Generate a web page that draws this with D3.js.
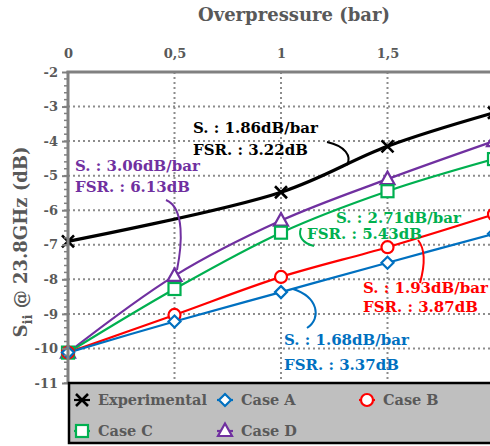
<!DOCTYPE html>
<html>
<head>
<meta charset="utf-8">
<script src="https://cdn.jsdelivr.net/npm/d3@7"></script>
<style>
  body { margin: 0; background: #fff; }
  svg { display: block; font-family: "DejaVu Serif", serif; font-weight: bold; }
</style>
</head>
<body>
<svg width="490" height="446"></svg>
<script>
// data
var pressure = [0, 0.5, 1, 1.5, 2];
var expPressure = [0, 1, 1.5, 2];
var experimental = [-6.9, -5.48, -4.15, -3.18];
var caseA = [-10.12, -9.22, -8.37, -7.52, -6.68];
var caseB = [-10.12, -9.03, -7.93, -7.07, -6.12];
var caseC = [-10.12, -8.28, -6.65, -5.45, -4.52];
var caseD = [-10.12, -7.9, -6.3, -5.1, -4.0];
var xTicks = [0, 0.5, 1, 1.5];
var xTickLabels = ["0", "0,5", "1", "1,5"];
var yTicks = [-2, -3, -4, -5, -6, -7, -8, -9, -10, -11];

var svg = d3.select("svg");
var gray = "#595959";

var x = d3.scaleLinear().domain([0, 2]).range([68, 494]);
var y = d3.scaleLinear().domain([-2, -11]).range([72, 383]);

var series = [
  { name: "Experimental", xs: expPressure, ys: experimental, color: "#000000", shape: "x", width: 3.2 },
  { name: "Case A", xs: pressure, ys: caseA, color: "#0070c0", shape: "diamond", width: 2.2 },
  { name: "Case B", xs: pressure, ys: caseB, color: "#ff0000", shape: "circle", width: 2.2 },
  { name: "Case C", xs: pressure, ys: caseC, color: "#00b050", shape: "square", width: 2.2 },
  { name: "Case D", xs: pressure, ys: caseD, color: "#7030a0", shape: "triangle", width: 2.2 }
];

// grid
svg.append("g").selectAll("line")
  .data(yTicks.slice(1, -1))
  .enter().append("line")
  .attr("x1", x(0)).attr("x2", 490)
  .attr("y1", function(d) { return y(d); })
  .attr("y2", function(d) { return y(d); })
  .attr("stroke", "#8c8c8c").attr("stroke-width", 2)
  .attr("stroke-dasharray", "2,3");

svg.append("g").selectAll("line")
  .data(xTicks.slice(1))
  .enter().append("line")
  .attr("x1", function(d) { return x(d); })
  .attr("x2", function(d) { return x(d); })
  .attr("y1", y(-2)).attr("y2", y(-11))
  .attr("stroke", "#8c8c8c").attr("stroke-width", 2)
  .attr("stroke-dasharray", "2,3");

// lines
var line = d3.line().curve(d3.curveCatmullRom.alpha(0.5));
series.slice().reverse().forEach(function(s) {
  var pts = s.xs.map(function(v, i) { return [x(v), y(s.ys[i])]; });
  svg.append("path")
    .attr("d", line(pts))
    .attr("fill", "none")
    .attr("stroke", s.color)
    .attr("stroke-width", s.width);
});

function marker(g, shape, color) {
  if (shape === "x") {
    g.append("path").attr("d", "M-6,-6L6,6M-6,6L6,-6")
      .attr("stroke", color).attr("stroke-width", 2.6).attr("fill", "none");
  } else if (shape === "circle") {
    g.append("circle").attr("r", 6)
      .attr("fill", "#fff").attr("stroke", color).attr("stroke-width", 2.2);
  } else if (shape === "square") {
    g.append("rect").attr("x", -6).attr("y", -6).attr("width", 12).attr("height", 12)
      .attr("fill", "#fff").attr("stroke", color).attr("stroke-width", 2.2);
  } else if (shape === "diamond") {
    g.append("path").attr("d", "M0,-6L6,0L0,6L-6,0Z")
      .attr("fill", "#fff").attr("stroke", color).attr("stroke-width", 2.2);
  } else if (shape === "triangle") {
    g.append("path").attr("d", "M0,-7.5L7,5L-7,5Z")
      .attr("fill", "#fff").attr("stroke", color).attr("stroke-width", 2.2);
  }
}

series.slice().reverse().forEach(function(s) {
  s.xs.forEach(function(v, i) {
    var g = svg.append("g").attr("transform", "translate(" + x(v) + "," + y(s.ys[i]) + ")");
    marker(g, s.shape, s.color);
  });
});

// annotations
var notes = [
  { color: "#000000", lines: ["S. : 1.86dB/bar", "FSR. : 3.22dB"], tx: 193, ty: 133, dy: 22,
    leader: "M327,142 C345,146 352,156 347,165" },
  { color: "#7030a0", lines: ["S. : 3.06dB/bar", "FSR. : 6.13dB"], tx: 75, ty: 171, dy: 21,
    leader: "M166,200 C185,208 182,245 177,270" },
  { color: "#00b050", lines: ["S. : 2.71dB/bar"], tx: 336, ty: 223, dy: 0,
    leader: "M301,228 C298,236 302,243 314,246" },
  { color: "#00b050", lines: ["FSR. : 5.43dB"], tx: 307, ty: 239, dy: 0, leader: null },
  { color: "#ff0000", lines: ["S. : 1.93dB/bar", "FSR. : 3.87dB"], tx: 363, ty: 293, dy: 19,
    leader: "M418,240 C426,250 425,265 420,283" },
  { color: "#0070c0", lines: ["S. : 1.68dB/bar", "FSR. : 3.37dB"], tx: 284, ty: 345, dy: 25,
    leader: "M293,289 C318,297 322,318 307,328" }
];

notes.forEach(function(n) {
  if (n.leader) {
    svg.append("path").attr("d", n.leader)
      .attr("fill", "none").attr("stroke", n.color).attr("stroke-width", 2);
  }
  n.lines.forEach(function(t, i) {
    svg.append("text")
      .attr("x", n.tx).attr("y", n.ty + i * n.dy)
      .attr("fill", n.color)
      .attr("font-size", 15)
      .text(t);
  });
});

// axes
var yAxis = d3.axisLeft(y).tickValues(yTicks).tickSize(6)
  .tickFormat(function(d) { return String(d); });
var gy = svg.append("g").attr("transform", "translate(" + x(0) + ",0)").call(yAxis);
gy.select(".domain").remove();
gy.selectAll(".tick line").attr("stroke", "#808080").attr("stroke-width", 2);
gy.selectAll(".tick text").attr("fill", gray).attr("font-size", 13)
  .attr("font-family", "DejaVu Serif").attr("font-weight", "bold").attr("x", -10);

var minor = d3.range(-11, -2, 0.2);
svg.append("g").selectAll("line")
  .data(minor)
  .enter().append("line")
  .attr("x1", x(0) - 4).attr("x2", x(0))
  .attr("y1", function(d) { return y(d); })
  .attr("y2", function(d) { return y(d); })
  .attr("stroke", "#808080").attr("stroke-width", 1.5);

svg.append("line")
  .attr("x1", x(0)).attr("x2", x(0)).attr("y1", y(-2) - 1).attr("y2", y(-11))
  .attr("stroke", "#808080").attr("stroke-width", 3);

var xAxis = d3.axisTop(x).tickValues(xTicks).tickSize(0)
  .tickFormat(function(d, i) { return xTickLabels[i]; });
var gx = svg.append("g").attr("transform", "translate(0," + y(-2) + ")").call(xAxis);
gx.select(".domain").remove();
gx.selectAll(".tick text").attr("fill", gray).attr("font-size", 13)
  .attr("font-family", "DejaVu Serif").attr("font-weight", "bold").attr("y", -14);

svg.append("line")
  .attr("x1", x(0) - 1.5).attr("x2", 490).attr("y1", y(-2)).attr("y2", y(-2))
  .attr("stroke", "#808080").attr("stroke-width", 3);

// titles
svg.append("text")
  .attr("x", 294).attr("y", 21)
  .attr("text-anchor", "middle")
  .attr("fill", gray).attr("font-size", 18)
  .text("Overpressure (bar)");

var yt = svg.append("text")
  .attr("transform", "translate(27,242) rotate(-90)")
  .attr("text-anchor", "middle")
  .attr("fill", gray).attr("font-size", 18);
yt.append("tspan").text("S");
yt.append("tspan").attr("dy", 5).attr("font-size", 13).text("ii");
yt.append("tspan").attr("dy", -5).text(" @ 23.8GHz (dB)");

// legend
svg.append("rect")
  .attr("x", 69).attr("y", 383).attr("width", 430).attr("height", 60)
  .attr("fill", "#bfbfbf").attr("stroke", "#000").attr("stroke-width", 2.5);

var legendPos = [[82, 400], [225, 400], [367, 400], [82, 431], [225, 431]];
series.forEach(function(s, i) {
  var p = legendPos[i];
  svg.append("line")
    .attr("x1", p[0] - 8).attr("x2", p[0] + 8).attr("y1", p[1]).attr("y2", p[1])
    .attr("stroke", s.color).attr("stroke-width", 2.2);
  var g = svg.append("g").attr("transform", "translate(" + p[0] + "," + p[1] + ")");
  marker(g, s.shape, s.color);
  svg.append("text")
    .attr("x", p[0] + 16).attr("y", p[1] + 5)
    .attr("fill", gray).attr("font-size", 14.5)
    .text(s.name);
});
</script>
</body>
</html>
